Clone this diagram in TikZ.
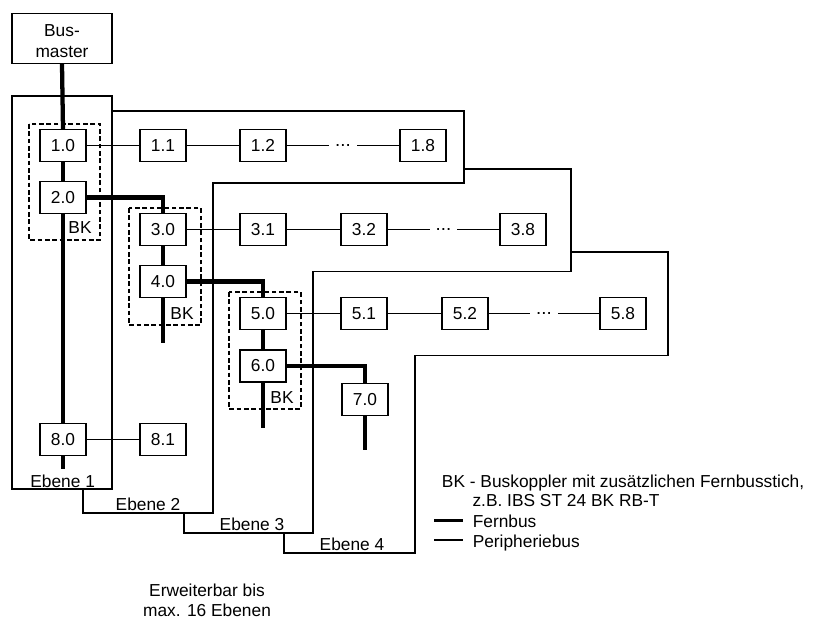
\documentclass[tikz,border=0pt]{standalone}
\usepackage{fontspec}
\setmainfont{Liberation Sans}
\begin{document}
\begin{tikzpicture}[x=0.75pt,y=-0.75pt,
  every node/.style={font=\fontsize{13}{15.75}\selectfont},
  box/.style={draw, line width=1pt, fill=white, minimum width=34.5pt,
    minimum height=24pt, inner sep=0pt},
  fern/.style={line width=3.2pt},
  peri/.style={line width=1pt},
  ebene/.style={line width=1pt},
  bkbox/.style={line width=1.3pt, dash pattern=on 3.5pt off 2pt},
  gap/.style={fill=white, inner xsep=4.5pt, inner ysep=1pt, font=\fontsize{14}{16}\selectfont},
  txt/.style={inner sep=0pt}]
\useasboundingbox (0,0) rectangle (814,618);

% Ebene outlines
\draw[ebene] (12,96) rectangle (112,489);
\draw[ebene] (112,111) -- (464,111) -- (464,183) -- (213,183) -- (213,513) -- (83,513) -- (83,489);
\draw[ebene] (464,169) -- (571,169) -- (571,271.7) -- (313,271.7) -- (313,533) -- (184,533) -- (184,513);
\draw[ebene] (571,252) -- (668,252) -- (668,355.7) -- (415,355.7) -- (415,553) -- (284,553) -- (284,533);

% Buskoppler (BK) groups
\draw[bkbox] (29,124) rectangle (100,240);
\draw[bkbox] (129,208) rectangle (200.7,325);
\draw[bkbox] (229,292) rectangle (300.7,409);
\node[txt] (bk1) at (80,228) {BK};
\node[txt] (bk2) at (182,314) {BK};
\node[txt] (bk3) at (282,398) {BK};

% Bus master
\node[box, minimum width=75pt, minimum height=37.5pt] (bm) at (62,38.3) {};
\node[txt, align=center] (bmtext) at (62,41.5) {Bus-\\master};

% Devices
\node[box] (n10) at (63,145.5) {1.0};
\node[box] (n11) at (163,145.5) {1.1};
\node[box] (n12) at (263,145.5) {1.2};
\node[box] (n18) at (423,145.5) {1.8};
\node[box] (n20) at (63,197.5) {2.0};
\node[box] (n30) at (163,229.7) {3.0};
\node[box] (n31) at (263,229.7) {3.1};
\node[box] (n32) at (364,229.7) {3.2};
\node[box] (n38) at (523,229.7) {3.8};
\node[box] (n40) at (163,281.5) {4.0};
\node[box] (n50) at (263,313.7) {5.0};
\node[box] (n51) at (364,313.7) {5.1};
\node[box] (n52) at (465,313.7) {5.2};
\node[box] (n58) at (623,313.7) {5.8};
\node[box] (n60) at (263,366) {6.0};
\node[box] (n70) at (365,399.5) {7.0};
\node[box] (n80) at (63,439.5) {8.0};
\node[box] (n81) at (163,439.5) {8.1};

% open ends of the remote bus
\coordinate (e40) at (163,343);
\coordinate (e60) at (263,428);
\coordinate (e70) at (365,450);
\coordinate (e80) at (63,469);

% Fernbus (remote bus)
\draw[fern] (bm.south) -- (n10.north);
\draw[fern] (n10.south) -- (n20.north);
\draw[fern] (n20.south) -- (n80.north);
\draw[fern] (n80.south) -- (e80);
\draw[fern] (n20.east) -| (n30.north);
\draw[fern] (n30.south) -- (n40.north);
\draw[fern] (n40.south) -- (e40);
\draw[fern] (n40.east) -| (n50.north);
\draw[fern] (n50.south) -- (n60.north);
\draw[fern] (n60.south) -- (e60);
\draw[fern] (n60.east) -| (n70.north);
\draw[fern] (n70.south) -- (e70);

% Peripheriebus (local bus)
\draw[peri] (n10) -- (n11);
\draw[peri] (n11) -- (n12);
\draw[peri] (n12) -- node[gap] {...} (n18);
\draw[peri] (n30) -- (n31);
\draw[peri] (n31) -- (n32);
\draw[peri] (n32) -- node[gap] {...} (n38);
\draw[peri] (n50) -- (n51);
\draw[peri] (n51) -- (n52);
\draw[peri] (n52) -- node[gap] {...} (n58);
\draw[peri] (n80) -- (n81);

% Ebene labels
\node[txt, anchor=base] (l1) at (62.7,487.3) {Ebene 1};
\node[txt, anchor=base] (l2) at (148,510) {Ebene 2};
\node[txt, anchor=base] (l3) at (252,530) {Ebene 3};
\node[txt, anchor=base] (l4) at (352,550) {Ebene 4};

\node[txt, anchor=base] (ext1) at (207,596) {Erweiterbar bis};
\node[txt, anchor=base] (ext2) at (207,616) {max. 16 Ebenen};

% Legend
\node[txt, anchor=base west] (lgbk) at (441.7,487.3) {BK - Buskoppler mit zusätzlichen Fernbusstich,};
\node[txt, anchor=base west] (lgbk2) at (472.3,506.7) {z.B. IBS ST 24 BK RB-T};
\coordinate (lfa) at (434,520.7);
\coordinate (lfb) at (463,520.7);
\coordinate (lpa) at (434,540);
\coordinate (lpb) at (463,540);
\draw[line width=2.2pt] (lfa) -- (lfb);
\draw[peri] (lpa) -- (lpb);
\node[txt, anchor=base west] (lgf) at (472.5,527) {Fernbus};
\node[txt, anchor=base west] (lgp) at (472.5,547) {Peripheriebus};
\end{tikzpicture}
\end{document}
